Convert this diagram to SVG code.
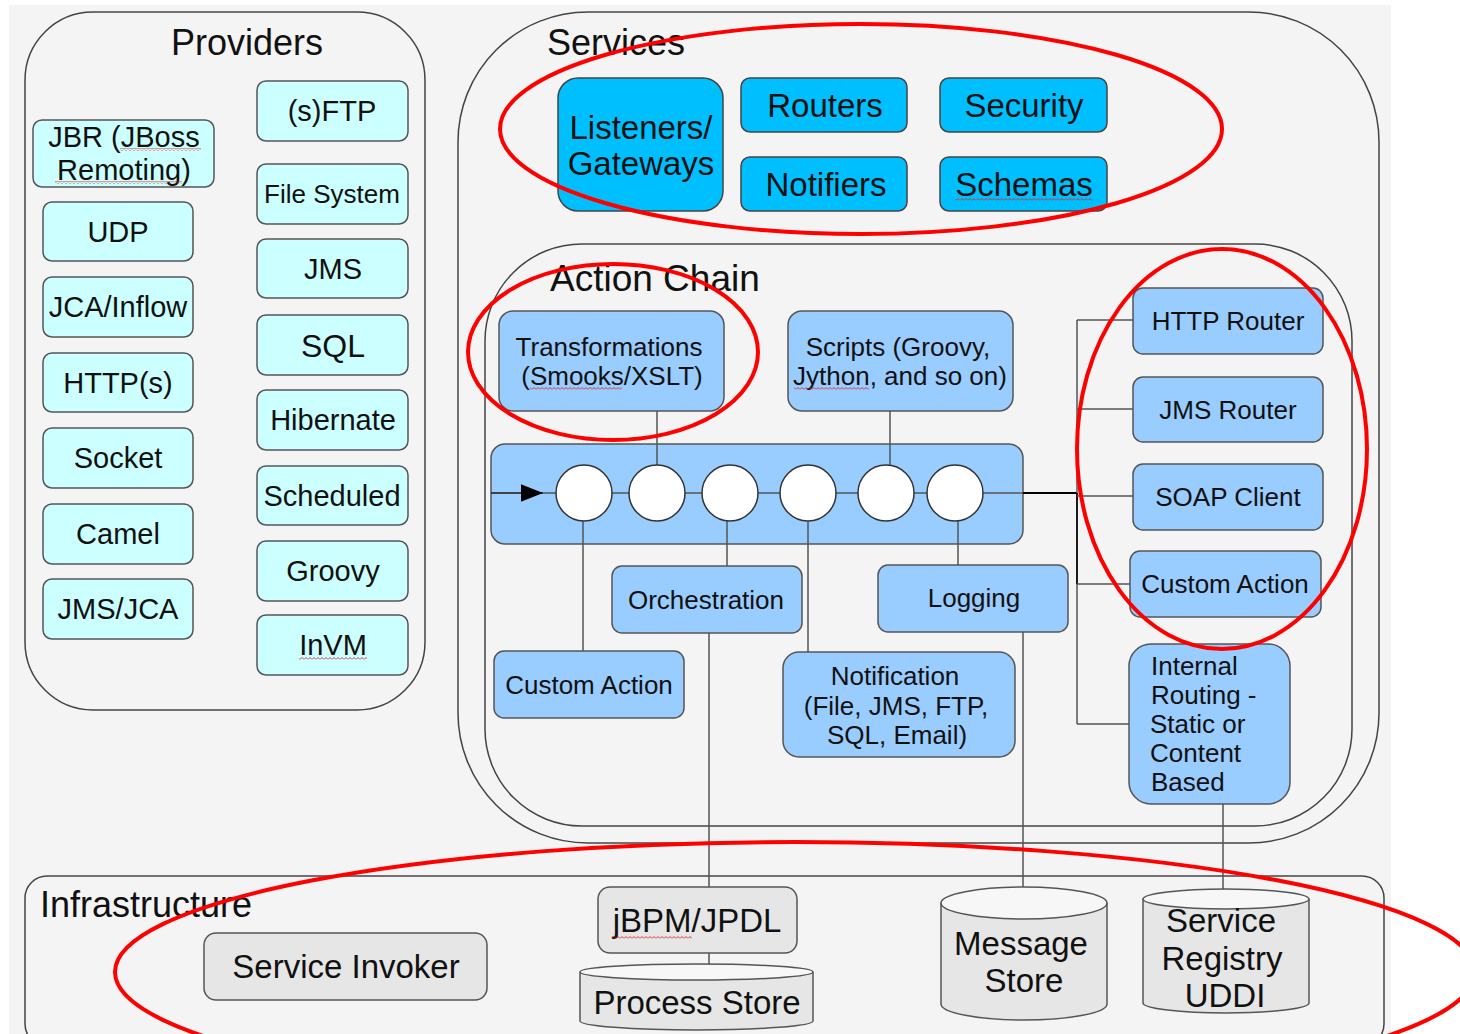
<svg xmlns="http://www.w3.org/2000/svg" width="1460" height="1034" viewBox="0 0 1460 1034">
<defs>
<style>
.t{font-family:"Liberation Sans",Arial,sans-serif;fill:#111;text-anchor:middle}
.tl{text-anchor:start}
.frame{fill:#f4f4f4;stroke:#444;stroke-width:1.5}
.bp{fill:#ccffff;stroke:#555;stroke-width:1.5}
.bs{fill:#00bfff;stroke:#444;stroke-width:1.5}
.ba{fill:#99ccff;stroke:#555;stroke-width:1.5}
.bi{fill:#e6e6e6;stroke:#555;stroke-width:1.5}
.top{fill:#f7f7f7;stroke:#555;stroke-width:1.5}
.con{stroke:#555;stroke-width:1.5;fill:none}
.ann{fill:none;stroke:#ff0000;stroke-width:4}
.circ{fill:#ffffff;stroke:#333;stroke-width:1.5}
.sq{fill:url(#squig)}
</style>
<pattern id="squig" patternUnits="userSpaceOnUse" width="4" height="3">
<path d="M0,2.5 L2,0.5 L4,2.5" fill="none" stroke="#e02020" stroke-width="0.9"/>
</pattern>
<marker id="arr" viewBox="0 0 10 10" refX="10" refY="5" markerWidth="22" markerHeight="22" markerUnits="userSpaceOnUse" orient="auto">
<path d="M0,1 L10,5 L0,9 Z" fill="#000"/>
</marker>
</defs>

<rect x="9" y="5" width="1382" height="1029" fill="#f4f4f4"/>

<!-- Providers -->
<g id="providers">
<rect class="frame" x="25" y="12" width="400" height="698" rx="68"/>
<text class="t" x="247" y="55" font-size="36">Providers</text>
</g>
<g id="p-jbr"><rect class="bp" x="33" y="120" width="181" height="67" rx="9"/>
<text class="t" x="124" y="147" font-size="29">JBR (JBoss</text><text class="t" x="124" y="180" font-size="29">Remoting)</text>
<rect class="sq" x="120" y="148" width="81" height="3"/><rect class="sq" x="55" y="181" width="127" height="3"/></g>
<g id="p-udp"><rect class="bp" x="43" y="202" width="150" height="59" rx="9"/><text class="t" x="118" y="242" font-size="29">UDP</text></g>
<g id="p-jca"><rect class="bp" x="43" y="277" width="150" height="60" rx="9"/><text class="t" x="118" y="317" font-size="29">JCA/Inflow</text></g>
<g id="p-http"><rect class="bp" x="43" y="353" width="150" height="59" rx="9"/><text class="t" x="118" y="393" font-size="29">HTTP(s)</text></g>
<g id="p-socket"><rect class="bp" x="43" y="428" width="150" height="60" rx="9"/><text class="t" x="118" y="468" font-size="29">Socket</text></g>
<g id="p-camel"><rect class="bp" x="43" y="504" width="150" height="60" rx="9"/><text class="t" x="118" y="544" font-size="29">Camel</text></g>
<g id="p-jmsjca"><rect class="bp" x="43" y="579" width="150" height="60" rx="9"/><text class="t" x="118" y="619" font-size="29">JMS/JCA</text></g>
<g id="p-sftp"><rect class="bp" x="257" y="81" width="151" height="60" rx="9"/><text class="t" x="332" y="121" font-size="29">(s)FTP</text></g>
<g id="p-fs"><rect class="bp" x="257" y="164" width="151" height="60" rx="9"/><text class="t" x="332" y="203" font-size="26">File System</text></g>
<g id="p-jms"><rect class="bp" x="257" y="239" width="151" height="59" rx="9"/><text class="t" x="333" y="279" font-size="29">JMS</text></g>
<g id="p-sql"><rect class="bp" x="257" y="315" width="151" height="60" rx="9"/><text class="t" x="333" y="357" font-size="32">SQL</text></g>
<g id="p-hib"><rect class="bp" x="257" y="390" width="151" height="60" rx="9"/><text class="t" x="333" y="430" font-size="29">Hibernate</text></g>
<g id="p-sched"><rect class="bp" x="257" y="466" width="151" height="59" rx="9"/><text class="t" x="332" y="506" font-size="29">Scheduled</text></g>
<g id="p-groovy"><rect class="bp" x="257" y="541" width="151" height="60" rx="9"/><text class="t" x="333" y="581" font-size="29">Groovy</text></g>
<g id="p-invm"><rect class="bp" x="257" y="615" width="151" height="60" rx="9"/><text class="t" x="333" y="655" font-size="29">InVM</text>
<rect class="sq" x="299" y="657" width="68" height="3"/></g>

<!-- Services -->
<g id="services">
<rect class="frame" x="458" y="12" width="921" height="831" rx="130"/>
<text class="t tl" x="547" y="55" font-size="36">Services</text>
</g>
<g id="s-listeners"><rect class="bs" x="558" y="78" width="165" height="133" rx="20"/>
<text class="t" x="641" y="139" font-size="33">Listeners/</text><text class="t" x="641" y="175" font-size="33">Gateways</text></g>
<g id="s-routers"><rect class="bs" x="741" y="78" width="166" height="54" rx="9"/><text class="t" x="825" y="117" font-size="33">Routers</text></g>
<g id="s-notifiers"><rect class="bs" x="741" y="157" width="166" height="54" rx="9"/><text class="t" x="826" y="196" font-size="33">Notifiers</text></g>
<g id="s-security"><rect class="bs" x="940" y="78" width="167" height="54" rx="9"/><text class="t" x="1024" y="117" font-size="33">Security</text></g>
<g id="s-schemas"><rect class="bs" x="940" y="157" width="167" height="54" rx="9"/><text class="t" x="1024" y="196" font-size="33">Schemas</text>
<rect class="sq" x="955" y="198" width="138" height="3"/></g>

<!-- Action Chain -->
<g id="action-chain">
<rect class="frame" x="485" y="244" width="867" height="582" rx="97"/>
<text class="t tl" x="550" y="291" font-size="37">Action Chain</text>
</g>
<g id="a-transform"><rect class="ba" x="499" y="311" width="225" height="100" rx="14"/>
<text class="t" x="609" y="356" font-size="26">Transformations</text><text class="t" x="612" y="385" font-size="26">(Smooks/XSLT)</text>
<rect class="sq" x="530" y="387" width="92" height="3"/></g>
<g id="a-scripts"><rect class="ba" x="788" y="311" width="225" height="100" rx="14"/>
<text class="t" x="898" y="356" font-size="26">Scripts (Groovy,</text><text class="t" x="900" y="385" font-size="26">Jython, and so on)</text>
<rect class="sq" x="794" y="387" width="75" height="3"/></g>
<g id="a-chain"><rect class="ba" x="491" y="444" width="532" height="100" rx="14"/></g>
<g id="a-custom-left"><rect class="ba" x="494" y="651" width="190" height="67" rx="10"/><text class="t" x="589" y="694" font-size="26">Custom Action</text></g>
<g id="a-orch"><rect class="ba" x="612" y="566" width="190" height="67" rx="10"/><text class="t" x="706" y="609" font-size="26">Orchestration</text></g>
<g id="a-logging"><rect class="ba" x="878" y="565" width="190" height="67" rx="10"/><text class="t" x="974" y="607" font-size="26">Logging</text></g>
<g id="a-notification"><rect class="ba" x="783" y="652" width="232" height="105" rx="16"/>
<text class="t" x="895" y="685" font-size="26">Notification</text><text class="t" x="896" y="715" font-size="26">(File, JMS, FTP,</text><text class="t" x="897" y="744" font-size="26">SQL, Email)</text></g>
<g id="a-http"><rect class="ba" x="1133" y="288" width="190" height="66" rx="10"/><text class="t" x="1228" y="330" font-size="26">HTTP Router</text></g>
<g id="a-jmsr"><rect class="ba" x="1133" y="377" width="190" height="65" rx="10"/><text class="t" x="1228" y="419" font-size="26">JMS Router</text></g>
<g id="a-soap"><rect class="ba" x="1133" y="464" width="190" height="66" rx="10"/><text class="t" x="1228" y="506" font-size="26">SOAP Client</text></g>
<g id="a-custom-right"><rect class="ba" x="1130" y="551" width="191" height="66" rx="10"/><text class="t" x="1225" y="593" font-size="26">Custom Action</text></g>
<g id="a-internal"><rect class="ba" x="1129" y="644" width="161" height="160" rx="22"/>
<text class="t tl" x="1151" y="675" font-size="26">Internal</text><text class="t tl" x="1151" y="704" font-size="26">Routing -</text>
<text class="t tl" x="1150" y="733" font-size="26">Static or</text><text class="t tl" x="1150" y="762" font-size="26">Content</text><text class="t tl" x="1151" y="791" font-size="26">Based</text></g>

<!-- Infrastructure -->
<g id="infrastructure">
<rect class="frame" x="25" y="876" width="1359" height="170" rx="22"/>
<text class="t tl" x="40" y="917" font-size="36">Infrastructure</text>
</g>
<g id="i-invoker"><rect class="bi" x="204" y="933" width="283" height="67" rx="12"/><text class="t" x="346" y="978" font-size="33">Service Invoker</text></g>
<g id="i-jbpm"><rect class="bi" x="598" y="887" width="199" height="66" rx="12"/><text class="t" x="697" y="932" font-size="33">jBPM/JPDL</text>
<rect class="sq" x="613" y="936" width="79" height="3"/></g>
<g id="i-process-store">
<path class="bi" d="M580,972 L580,1021 A116.5,9 0 0 0 813,1021 L813,972"/>
<ellipse class="top" cx="696.5" cy="972" rx="116.5" ry="8"/>
<text class="t" x="697" y="1014" font-size="33">Process Store</text></g>
<g id="i-message-store">
<path class="bi" d="M941,903 L941,1004 A83,16 0 0 0 1107,1004 L1107,903"/>
<ellipse class="top" cx="1024" cy="903" rx="83" ry="16"/>
<text class="t" x="1021" y="955" font-size="33">Message</text><text class="t" x="1024" y="992" font-size="33">Store</text></g>
<g id="i-registry">
<path class="bi" d="M1143,899 L1143,1003 A83,10 0 0 0 1309,1003 L1309,899"/>
<ellipse class="top" cx="1226" cy="899" rx="83" ry="10"/>
<text class="t" x="1221" y="932" font-size="33">Service</text><text class="t" x="1222" y="970" font-size="33">Registry</text><text class="t" x="1225" y="1007" font-size="33">UDDI</text></g>

<!-- Connectors -->
<g id="connectors">
<line class="con" x1="657" y1="411" x2="657" y2="465"/>
<line class="con" x1="890" y1="411" x2="890" y2="465"/>
<line class="con" x1="491" y1="493" x2="1023" y2="493"/>
<line x1="491" y1="493" x2="543" y2="493" stroke="#333" stroke-width="1.5" marker-end="url(#arr)"/>
<line x1="1023" y1="493" x2="1077" y2="493" stroke="#000" stroke-width="2.2"/>
<line class="con" x1="583" y1="521" x2="583" y2="651"/>
<line class="con" x1="727" y1="521" x2="727" y2="566"/>
<line class="con" x1="808" y1="521" x2="808" y2="652"/>
<line class="con" x1="958" y1="521" x2="958" y2="565"/>
<line class="con" x1="1077" y1="320" x2="1077" y2="724"/>
<line x1="1077" y1="493" x2="1077" y2="584" stroke="#111" stroke-width="1.8"/>
<line class="con" x1="1077" y1="320" x2="1133" y2="320"/>
<line class="con" x1="1077" y1="409" x2="1133" y2="409"/>
<line class="con" x1="1077" y1="496" x2="1133" y2="496"/>
<line class="con" x1="1077" y1="584" x2="1130" y2="584"/>
<line class="con" x1="1077" y1="724" x2="1129" y2="724"/>
<line class="con" x1="709" y1="633" x2="709" y2="887"/>
<line class="con" x1="709" y1="953" x2="709" y2="964"/>
<line class="con" x1="1023" y1="632" x2="1023" y2="887"/>
<line class="con" x1="1223" y1="804" x2="1223" y2="889"/>
</g>

<g id="chain-steps">
<circle class="circ" cx="584" cy="493" r="28"/>
<circle class="circ" cx="657" cy="493" r="28"/>
<circle class="circ" cx="730" cy="493" r="28"/>
<circle class="circ" cx="808" cy="493" r="28"/>
<circle class="circ" cx="886" cy="493" r="28"/>
<circle class="circ" cx="955" cy="493" r="28"/>
</g>

<!-- Annotations -->
<g id="annotations">
<ellipse class="ann" cx="861" cy="129" rx="361" ry="105"/>
<ellipse class="ann" cx="613" cy="352" rx="145" ry="88"/>
<ellipse class="ann" cx="1222" cy="449" rx="145" ry="200"/>
<ellipse class="ann" cx="795" cy="972" rx="680" ry="130"/>
</g>
</svg>
